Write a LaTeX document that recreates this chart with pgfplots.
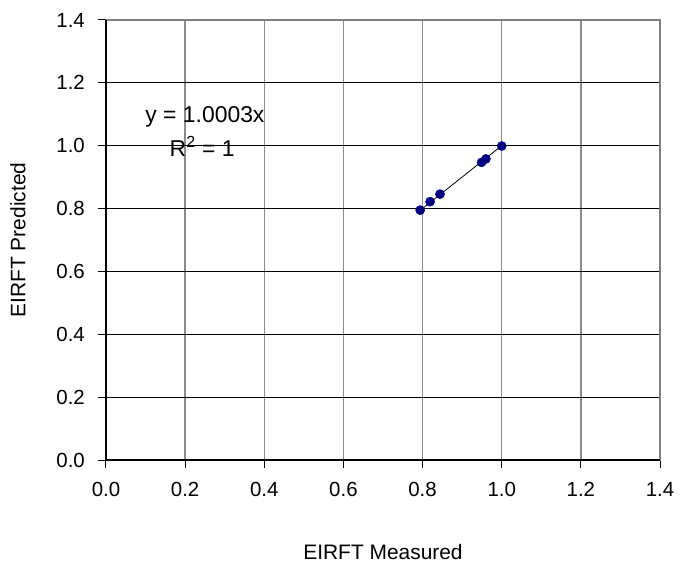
\documentclass[border=0pt]{standalone}
\usepackage{pgfplots}
\pgfplotsset{compat=1.18}
\usepackage{fontspec}
\setmainfont{Liberation Sans}
\definecolor{navy}{RGB}{0,0,128}
\begin{document}
\fontsize{21}{25}\selectfont
\begin{tikzpicture}
\path[use as bounding box] (-106bp,-113bp) rectangle (576bp,460bp);
\begin{axis}[
  at={(0,0)}, anchor=south west,
  scale only axis, width=554bp, height=440bp,
  xmin=0, xmax=1.4, ymin=0, ymax=1.4,
  xtick={0,0.2,...,1.4}, ytick={0,0.2,...,1.4},
  /pgf/number format/assume math mode=true,
  /pgf/number format/.cd, fixed, fixed zerofill, precision=1, /pgfplots/.cd,
  xtick pos=left, ytick pos=left,
  tick align=outside, major tick length=8bp,
  tick style={black, line width=1bp},
  grid=major,
  x grid style={gray!90, line width=1.3bp},
  y grid style={black, line width=1bp},
  axis line style={gray, line width=1.3bp},
  ticklabel style={font=\fontsize{20.5}{24}\selectfont},
  xticklabel style={yshift=-7bp},
  yticklabel style={xshift=-6bp},
  xlabel={EIRFT Measured},
  ylabel={EIRFT Predicted},
  label style={font=\fontsize{21}{25}\selectfont},
  x label style={at={(axis description cs:0.5,-0.209)}, anchor=center},
  y label style={at={(axis description cs:-0.159,0.5)}, anchor=center, rotate=0},
  clip=false,
]
\addplot[black, line width=0.8bp, no marks] coordinates {(0.794,0.7942) (1.0,1.0003)};
\addplot[only marks, mark=*, mark size=4.6bp, draw=navy, fill=navy] coordinates {
(0.794,0.795) (0.819,0.822) (0.844,0.846) (0.949,0.947) (0.960,0.958) (1.0,0.999)};
\draw[black, line width=1.3bp] (axis cs:0,1.4) -- (axis cs:0,0) -- (axis cs:1.4,0);
\node[anchor=center, font=\fontsize{23}{27}\selectfont] at (axis cs:0.25,1.091) {y = 1.0003x};
\node[anchor=center, font=\fontsize{23}{27}\selectfont] at (axis cs:0.243,0.998) {R\textsuperscript{2} = 1};
\end{axis}
\end{tikzpicture}
\end{document}
